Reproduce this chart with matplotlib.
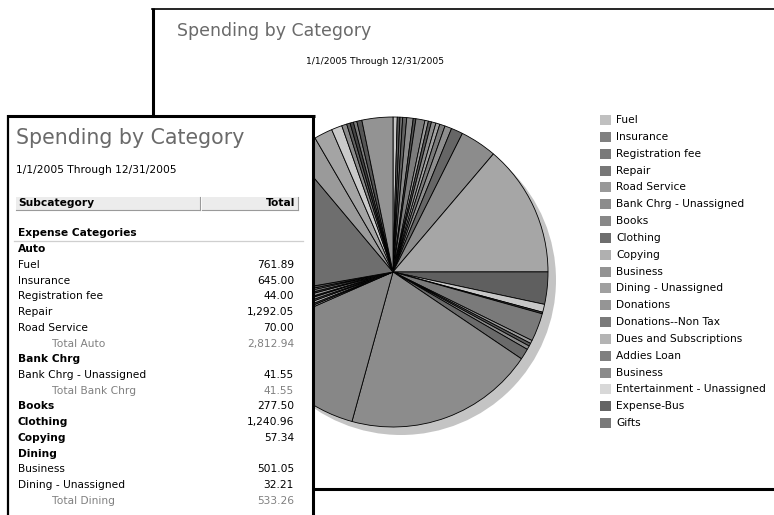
import matplotlib.pyplot as plt
from matplotlib.patches import Rectangle, Circle

W, H = 774, 515

# pie slices, clockwise from 12 o'clock, share of total spending in percent (estimated)
slice_share = [0.44, 0.28, 0.28, 0.42, 0.67, 0.28, 0.94, 0.36, 0.33, 0.47, 0.42, 0.56,
               0.72, 1.22, 3.83, 13.78, 3.36, 0.83, 0.17, 2.94, 0.33, 0.31, 0.39, 1.14,
               19.81, 14.17, 0.31, 0.28, 0.42, 0.28, 0.42, 0.22, 0.47, 0.28, 0.42, 0.28,
               0.42, 16.67, 2.72, 1.92, 1.11, 0.53, 0.36, 0.36, 0.36, 0.53, 3.22]
slice_colors = ['#c8c8c8', '#555555', '#707070', '#606060', '#8a8a8a', '#505050', '#7c7c7c',
                '#9a9a9a', '#5a5a5a', '#8c8c8c', '#a0a0a0', '#7a7a7a', '#8e8e8e', '#666666',
                '#8c8c8c', '#a6a6a6', '#5f5f5f', '#c8c8c8', '#444444', '#7a7a7a', '#9a9a9a',
                '#5a5a5a', '#8a8a8a', '#6a6a6a', '#8c8c8c', '#878787', '#9a9a9a', '#555555',
                '#b0b0b0', '#666666', '#8a8a8a', '#444444', '#999999', '#5a5a5a', '#7a7a7a',
                '#aaaaaa', '#555555', '#6e6e6e', '#9a9a9a', '#a4a4a4', '#cacaca', '#8a8a8a',
                '#606060', '#444444', '#7a7a7a', '#555555', '#939393']

legend_names = ['Fuel', 'Insurance', 'Registration fee', 'Repair', 'Road Service',
                'Bank Chrg - Unassigned', 'Books', 'Clothing', 'Copying', 'Business',
                'Dining - Unassigned', 'Donations', 'Donations--Non Tax',
                'Dues and Subscriptions', 'Addies Loan', 'Business',
                'Entertainment - Unassigned', 'Expense-Bus', 'Gifts']
legend_colors = ['#c0c0c0', '#808080', '#7a7a7a', '#777777', '#999999', '#8c8c8c', '#888888',
                 '#6e6e6e', '#b0b0b0', '#939393', '#a0a0a0', '#959595', '#7a7a7a', '#b4b4b4',
                 '#7f7f7f', '#8a8a8a', '#d8d8d8', '#646464', '#7a7a7a']

# report rows: (label, amount, kind)  kind: b=bold heading, n=normal, t=total
rows = [('Auto', '', 'b'), ('Fuel', '761.89', 'n'), ('Insurance', '645.00', 'n'),
        ('Registration fee', '44.00', 'n'), ('Repair', '1,292.05', 'n'),
        ('Road Service', '70.00', 'n'), ('Total Auto', '2,812.94', 't'),
        ('Bank Chrg', '', 'b'), ('Bank Chrg - Unassigned', '41.55', 'n'),
        ('Total Bank Chrg', '41.55', 't'), ('Books', '277.50', 'b'),
        ('Clothing', '1,240.96', 'b'), ('Copying', '57.34', 'b'), ('Dining', '', 'b'),
        ('Business', '501.05', 'n'), ('Dining - Unassigned', '32.21', 'n'),
        ('Total Dining', '533.26', 't')]

title = 'Spending by Category'
period = '1/1/2005 Through 12/31/2005'

plt.rcParams['font.family'] = 'DejaVu Sans'
fig = plt.figure(figsize=(W / 100, H / 100), dpi=100)
ax = fig.add_axes([0, 0, 1, 1])
ax.set_xlim(0, W)
ax.set_ylim(H, 0)  # pixel coords, y down
ax.axis('off')

# back window
ax.add_patch(Rectangle((153, 8.5), 700, 480, facecolor='white', edgecolor='none', zorder=1))
ax.plot([153, 153], [8, 116], color='black', lw=2.2, zorder=2, solid_capstyle='butt')
ax.plot([152, W], [8.5, 8.5], color='black', lw=1.2, zorder=2)
ax.plot([313, W], [488.5, 488.5], color='black', lw=2.2, zorder=2)
ax.text(177, 31, title, fontsize=12.5, color='#6a6a6a', va='center', zorder=3)
ax.text(306, 61.5, period, fontsize=6.6, color='black', va='center', zorder=3)

# pie with shadow
cx, cy, r = 393, 272, 155
ax.add_patch(Circle((cx + 8, cy + 8), r, facecolor='#c4c4c4', edgecolor='none', zorder=2))
wedges, _ = ax.pie(slice_share, colors=slice_colors, center=(cx, cy), radius=r,
                   startangle=-90, counterclock=True, frame=True,
                   wedgeprops=dict(edgecolor='black', linewidth=0.6))
for w in wedges:
    w.set_zorder(3)
ax.set_xlim(0, W)
ax.set_ylim(H, 0)
ax.set_aspect('auto')
ax.axis('off')

# legend
for i, (name, col) in enumerate(zip(legend_names, legend_colors)):
    y = 120 + i * 16.84
    ax.add_patch(Rectangle((600, y - 5), 11, 10, facecolor=col, edgecolor='none', zorder=3))
    ax.text(616, y, name, fontsize=7.7, va='center', color='black', zorder=3)

# front report window
ax.add_patch(Rectangle((7.5, 115.5), 305.5, 420, facecolor='white', edgecolor='none', zorder=10))
ax.plot([7.5, 7.5], [115, H + 5], color='black', lw=1.6, zorder=11, solid_capstyle='butt')
ax.plot([6.7, 314.5], [115.7, 115.7], color='black', lw=2.2, zorder=11, solid_capstyle='butt')
ax.plot([313.3, 313.3], [114.6, H + 5], color='black', lw=2.2, zorder=11, solid_capstyle='butt')

ax.text(16, 138, title, fontsize=14.8, color='#6a6a6a', va='center', zorder=12)
ax.text(16, 170, period, fontsize=7.7, color='black', va='center', zorder=12)

# header bar
for x0, x1 in [(16, 200), (202, 298)]:
    ax.add_patch(Rectangle((x0, 197), x1 - x0, 13, facecolor='#ececec', edgecolor='none', zorder=11))
    ax.plot([x0, x1], [210, 210], color='#9a9a9a', lw=0.8, zorder=12)
    ax.plot([x1, x1], [197, 210], color='#9a9a9a', lw=0.8, zorder=12)
ax.text(18, 203.5, 'Subcategory', fontsize=7.7, fontweight='bold', va='center', zorder=12)
ax.text(295, 203.5, 'Total', fontsize=7.7, fontweight='bold', va='center', ha='right', zorder=12)

ax.text(18, 233, 'Expense Categories', fontsize=7.7, fontweight='bold', va='center', zorder=12)
ax.plot([14, 303], [241, 241], color='#cfcfcf', lw=0.9, zorder=12)

for i, (label, amount, kind) in enumerate(rows):
    y = 249.3 + i * 15.71
    color = '#808080' if kind == 't' else 'black'
    weight = 'bold' if kind == 'b' else 'normal'
    x = 52 if kind == 't' else 18
    ax.text(x, y, label, fontsize=7.7, fontweight=weight, color=color, va='center', zorder=12)
    if amount:
        ax.text(294, y, amount, fontsize=7.7, color=color, va='center', ha='right', zorder=12)

fig.savefig('out.png', dpi=100, facecolor='white')
